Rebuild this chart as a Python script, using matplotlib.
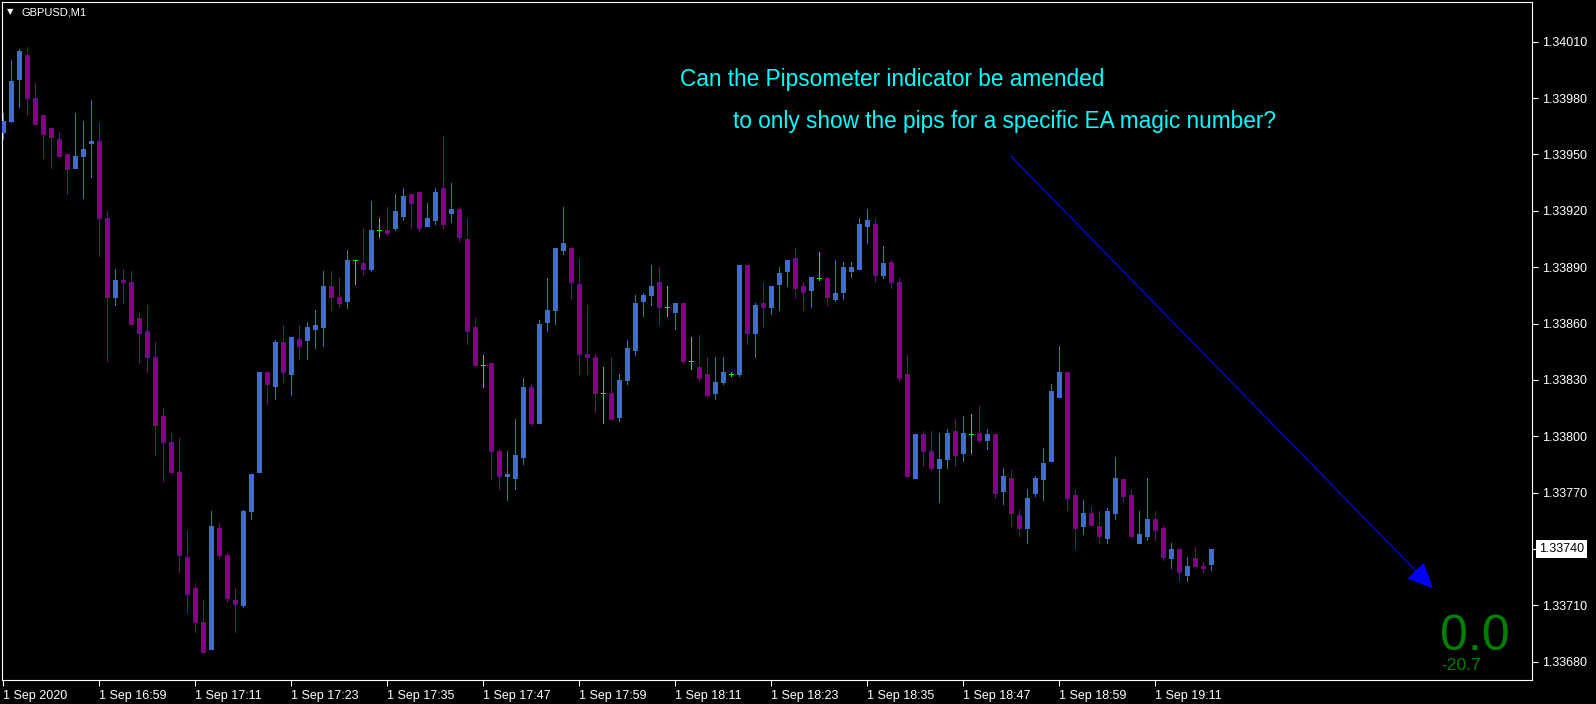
import numpy as np
import pandas as pd
import matplotlib
matplotlib.use('Agg')
import matplotlib.pyplot as plt
from matplotlib.transforms import blended_transform_factory

# GBPUSD M1 bars, 1 Sep 2020 from 16:47
opens = [1.33962, 1.33968, 1.33990, 1.34003, 1.33980, 1.33971, 1.33964, 1.33958, 1.33950, 1.33943,
         1.33949, 1.33956, 1.33957, 1.33916, 1.33874, 1.33883, 1.33882, 1.33863, 1.33856, 1.33842,
         1.33811, 1.33797, 1.33781, 1.33736, 1.33719, 1.33701, 1.33687, 1.33751, 1.33737, 1.33713,
         1.33710, 1.33760, 1.33781, 1.33834, 1.33827, 1.33850, 1.33833, 1.33852, 1.33851, 1.33857,
         1.33858, 1.33880, 1.33874, 1.33872, 1.33894, 1.33892, 1.33889, 1.33910, 1.33910, 1.33911,
         1.33917, 1.33929, 1.33930, 1.33912, 1.33915, 1.33932, 1.33919, 1.33921, 1.33905, 1.33858,
         1.33838, 1.33839, 1.33792, 1.33779, 1.33778, 1.33789, 1.33826, 1.33807, 1.33861, 1.33867,
         1.33899, 1.33900, 1.33881, 1.33844, 1.33842, 1.33823, 1.33823, 1.33810, 1.33830, 1.33846,
         1.33872, 1.33875, 1.33882, 1.33869, 1.33866, 1.33871, 1.33840, 1.33837, 1.33833, 1.33823,
         1.33829, 1.33833, 1.33833, 1.33891, 1.33855, 1.33871, 1.33869, 1.33881, 1.33888, 1.33895,
         1.33880, 1.33878, 1.33884, 1.33884, 1.33873, 1.33877, 1.33888, 1.33889, 1.33912, 1.33913,
         1.33886, 1.33893, 1.33882, 1.33833, 1.33778, 1.33801, 1.33792, 1.33783, 1.33788, 1.33803,
         1.33791, 1.33801, 1.33802, 1.33798, 1.33801, 1.33771, 1.33778, 1.33758, 1.33751, 1.33770,
         1.33777, 1.33787, 1.33821, 1.33834, 1.33769, 1.33752, 1.33759, 1.33752, 1.33746, 1.33759,
         1.33777, 1.33769, 1.33743, 1.33747, 1.33756, 1.33751, 1.33735, 1.33740, 1.33726, 1.33735,
         1.33731, 1.33732]
highs = [1.33972, 1.34000, 1.34006, 1.34007, 1.33988, 1.33971, 1.33964, 1.33962, 1.33950, 1.33972,
         1.33968, 1.33979, 1.33967, 1.33920, 1.33889, 1.33889, 1.33888, 1.33866, 1.33870, 1.33850,
         1.33815, 1.33802, 1.33799, 1.33750, 1.33721, 1.33713, 1.33760, 1.33754, 1.33738, 1.33719,
         1.33761, 1.33780, 1.33834, 1.33834, 1.33851, 1.33859, 1.33853, 1.33859, 1.33861, 1.33867,
         1.33888, 1.33888, 1.33885, 1.33899, 1.33894, 1.33911, 1.33925, 1.33916, 1.33922, 1.33929,
         1.33932, 1.33929, 1.33930, 1.33924, 1.33932, 1.33960, 1.33935, 1.33922, 1.33916, 1.33863,
         1.33843, 1.33839, 1.33793, 1.33792, 1.33809, 1.33831, 1.33828, 1.33862, 1.33884, 1.33900,
         1.33922, 1.33900, 1.33895, 1.33870, 1.33844, 1.33837, 1.33842, 1.33833, 1.33851, 1.33875,
         1.33876, 1.33891, 1.33890, 1.33880, 1.33871, 1.33871, 1.33853, 1.33854, 1.33842, 1.33842,
         1.33842, 1.33834, 1.33891, 1.33891, 1.33871, 1.33882, 1.33880, 1.33890, 1.33894, 1.33900,
         1.33882, 1.33885, 1.33898, 1.33885, 1.33894, 1.33893, 1.33893, 1.33916, 1.33921, 1.33916,
         1.33901, 1.33894, 1.33884, 1.33843, 1.33801, 1.33803, 1.33803, 1.33802, 1.33804, 1.33809,
         1.33811, 1.33812, 1.33816, 1.33804, 1.33801, 1.33783, 1.33782, 1.33761, 1.33772, 1.33779,
         1.33794, 1.33828, 1.33848, 1.33834, 1.33772, 1.33766, 1.33763, 1.33760, 1.33762, 1.33789,
         1.33777, 1.33772, 1.33760, 1.33778, 1.33760, 1.33752, 1.33743, 1.33740, 1.33736, 1.33741,
         1.33733, 1.33740]
lows = [1.33958, 1.33967, 1.33975, 1.33971, 1.33966, 1.33948, 1.33943, 1.33949, 1.33929, 1.33943,
        1.33927, 1.33938, 1.33896, 1.33840, 1.33870, 1.33871, 1.33860, 1.33839, 1.33834, 1.33790,
        1.33776, 1.33781, 1.33728, 1.33706, 1.33696, 1.33685, 1.33687, 1.33735, 1.33712, 1.33696,
        1.33709, 1.33756, 1.33781, 1.33817, 1.33820, 1.33829, 1.33822, 1.33841, 1.33841, 1.33847,
        1.33848, 1.33867, 1.33869, 1.33868, 1.33881, 1.33886, 1.33888, 1.33906, 1.33907, 1.33910,
        1.33915, 1.33911, 1.33909, 1.33912, 1.33913, 1.33911, 1.33914, 1.33904, 1.33849, 1.33838,
        1.33826, 1.33777, 1.33772, 1.33766, 1.33772, 1.33785, 1.33806, 1.33807, 1.33856, 1.33860,
        1.33897, 1.33873, 1.33833, 1.33833, 1.33813, 1.33807, 1.33809, 1.33808, 1.33828, 1.33843,
        1.33864, 1.33870, 1.33859, 1.33864, 1.33857, 1.33839, 1.33836, 1.33830, 1.33821, 1.33820,
        1.33828, 1.33832, 1.33832, 1.33849, 1.33842, 1.33858, 1.33865, 1.33867, 1.33880, 1.33874,
        1.33867, 1.33869, 1.33883, 1.33870, 1.33872, 1.33873, 1.33885, 1.33889, 1.33903, 1.33882,
        1.33884, 1.33879, 1.33830, 1.33779, 1.33778, 1.33784, 1.33782, 1.33765, 1.33783, 1.33784,
        1.33787, 1.33791, 1.33797, 1.33793, 1.33767, 1.33764, 1.33752, 1.33747, 1.33743, 1.33768,
        1.33766, 1.33787, 1.33821, 1.33761, 1.33740, 1.33748, 1.33753, 1.33743, 1.33743, 1.33756,
        1.33765, 1.33747, 1.33743, 1.33745, 1.33745, 1.33734, 1.33730, 1.33723, 1.33723, 1.33731,
        1.33728, 1.33729]
closes = [1.33968, 1.33989, 1.34005, 1.33980, 1.33966, 1.33961, 1.33959, 1.33949, 1.33942, 1.33949,
          1.33953, 1.33957, 1.33916, 1.33874, 1.33883, 1.33882, 1.33860, 1.33855, 1.33842, 1.33806,
          1.33797, 1.33781, 1.33737, 1.33716, 1.33701, 1.33685, 1.33752, 1.33737, 1.33714, 1.33711,
          1.33760, 1.33780, 1.33834, 1.33828, 1.33850, 1.33834, 1.33853, 1.33848, 1.33858, 1.33859,
          1.33880, 1.33874, 1.33871, 1.33894, 1.33894, 1.33889, 1.33910, 1.33910, 1.33908, 1.33920,
          1.33928, 1.33924, 1.33911, 1.33916, 1.33930, 1.33913, 1.33921, 1.33906, 1.33856, 1.33838,
          1.33838, 1.33792, 1.33779, 1.33780, 1.33790, 1.33826, 1.33807, 1.33860, 1.33867, 1.33900,
          1.33903, 1.33882, 1.33844, 1.33842, 1.33823, 1.33823, 1.33809, 1.33830, 1.33847, 1.33871,
          1.33875, 1.33880, 1.33869, 1.33869, 1.33871, 1.33840, 1.33840, 1.33831, 1.33822, 1.33829,
          1.33834, 1.33833, 1.33891, 1.33855, 1.33870, 1.33869, 1.33880, 1.33887, 1.33894, 1.33879,
          1.33877, 1.33885, 1.33884, 1.33874, 1.33876, 1.33890, 1.33890, 1.33913, 1.33915, 1.33886,
          1.33892, 1.33882, 1.33831, 1.33779, 1.33801, 1.33792, 1.33783, 1.33788, 1.33802, 1.33790,
          1.33802, 1.33801, 1.33798, 1.33801, 1.33770, 1.33779, 1.33759, 1.33751, 1.33767, 1.33778,
          1.33786, 1.33824, 1.33834, 1.33767, 1.33751, 1.33759, 1.33753, 1.33747, 1.33760, 1.33778,
          1.33768, 1.33747, 1.33748, 1.33756, 1.33750, 1.33736, 1.33740, 1.33728, 1.33731, 1.33731,
          1.33730, 1.33740]

price_ticks = [1.34010, 1.33980, 1.33950, 1.33920, 1.33890, 1.33860,
               1.33830, 1.33800, 1.33770, 1.33740, 1.33710, 1.33680]
symbol_label = 'GBPUSD,M1'
question_1 = 'Can the Pipsometer indicator be amended'
question_2 = 'to only show the pips for a specific EA magic number?'
pips_now = '0.0'
pips_total = '-20.7'
# trend line drawn on the chart (bar index, price)
arrow_from = (126.0, 1.33949)
arrow_to = (178.75, 1.33719)

times = pd.date_range('2020-09-01 16:47', periods=len(opens), freq='min')

BULL = '#4169e1'
BEAR = '#800080'
DOJI = '#00ff00'
FG = 'white'

fig = plt.figure(figsize=(15.96, 7.04), dpi=100, facecolor='black')
ax = fig.add_axes([2 / 1596, 24 / 704, 1530 / 1596, 678 / 704])
ax.set_facecolor('black')

o = np.array(opens)
h = np.array(highs)
l = np.array(lows)
c = np.array(closes)
x = np.arange(len(o))

cols = np.where(c > o, BULL, np.where(c < o, BEAR, DOJI))

# wicks, 1 px
ax.vlines(x, l, h, colors=cols, linewidth=0.72, antialiased=False, zorder=2)
# bodies, drawn as 5 px lines
body = c != o
bl = ax.vlines(x[body], np.minimum(o, c)[body], np.maximum(o, c)[body],
               colors=cols[body], linewidth=3.6, antialiased=False, zorder=3)
bl.set_capstyle('butt')
# dojis
ax.hlines(c[~body], x[~body] - 0.31, x[~body] + 0.31, colors=DOJI, linewidth=0.72,
          antialiased=False, zorder=3)

ax.set_xlim(-0.125, 191.125)
ax.set_ylim(1.336703, 1.340311)

# price axis on the right
ax.yaxis.tick_right()
ax.set_yticks(price_ticks)
ax.set_yticklabels([f'{p:.5f}' for p in price_ticks])
ax.tick_params(axis='y', colors=FG, length=4, width=0.8, pad=3, labelsize=9)

# time axis
tick_idx = list(range(0, len(o), 12))
tick_lbl = ['1 Sep 2020'] + [f'1 Sep {times[i]:%H:%M}' for i in tick_idx[1:]]
ax.set_xticks(tick_idx)
ax.set_xticklabels(tick_lbl, ha='left')
ax.tick_params(axis='x', colors=FG, length=4, width=0.8, pad=3, labelsize=9)

for sp in ax.spines.values():
    sp.set_color(FG)
    sp.set_linewidth(0.8)

for t in ax.get_xticklabels() + ax.get_yticklabels():
    t.set_fontfamily('Liberation Sans')

# current price marker
tr = blended_transform_factory(ax.transAxes, ax.transData)
ax.text(1.0 + 7 / 1530, c[-1], f'{c[-1]:.5f}', transform=tr, ha='left', va='center',
        fontsize=9, family='Liberation Sans', color='black', zorder=10,
        bbox=dict(boxstyle='square,pad=0.25', fc='white', ec='none'))

# symbol caption
ax.text(8 / 1530, 0.9853, '\u25bc', transform=ax.transAxes, ha='center', va='center',
        fontsize=6, color=FG, family='DejaVu Sans')
ax.text(19 / 1530, 0.9842, symbol_label, transform=ax.transAxes, ha='left', va='center',
        fontsize=8, color=FG, family='Liberation Sans')

# question text
ax.text(678 / 1530, 0.8761, question_1, transform=ax.transAxes, ha='left', va='baseline',
        fontsize=16.3, color='#00ffff', family='Liberation Sans')
ax.text(731 / 1530, 0.8142, question_2, transform=ax.transAxes, ha='left', va='baseline',
        fontsize=16.3, color='#00ffff', family='Liberation Sans')

# arrow line
ax.annotate('', xy=arrow_to, xytext=arrow_from,
            arrowprops=dict(arrowstyle='-|>,head_length=1.1,head_width=0.5',
                            mutation_scale=15, color='#0000ff', lw=0.8,
                            shrinkA=0, shrinkB=0))

# pipsometer readout
ax.text(1508 / 1530, 30 / 678, pips_now, transform=ax.transAxes, ha='right', va='baseline',
        fontsize=36, color='#008000', family='Liberation Sans')
ax.text(1439 / 1530, 10 / 678, pips_total, transform=ax.transAxes, ha='left', va='baseline',
        fontsize=12.6, color='#008000', family='Liberation Sans')

fig.savefig('out.png', dpi=100, facecolor='black')
